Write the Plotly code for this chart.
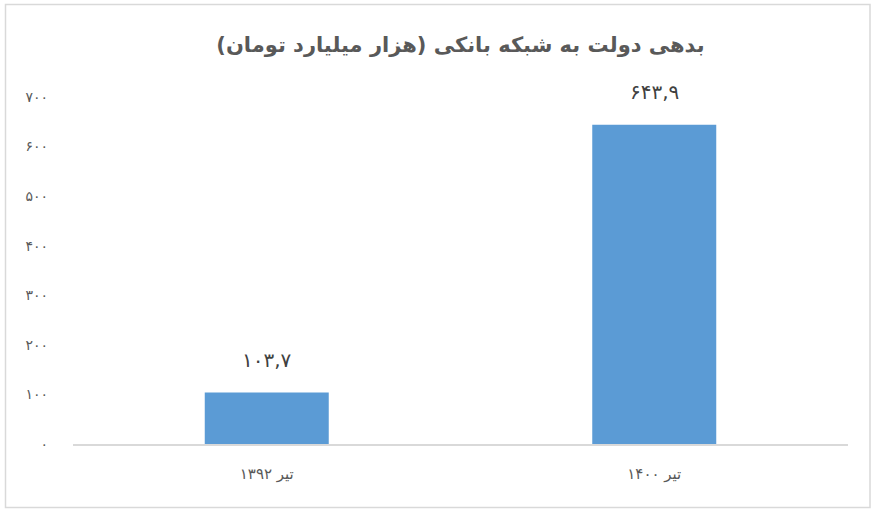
import plotly.graph_objs as go

# داده‌ها
categories = ['تیر ۱۳۹۲', 'تیر ۱۴۰۰']
values = [103.7, 643.9]
value_labels = ['۱۰۳,۷', '۶۴۳,۹']
tick_vals = [0, 100, 200, 300, 400, 500, 600, 700]
tick_text = ['۰', '۱۰۰', '۲۰۰', '۳۰۰', '۴۰۰', '۵۰۰', '۶۰۰', '۷۰۰']
title = 'بدهی دولت به شبکه بانکی (هزار میلیارد تومان)'

W, H = 873, 512
ml, mr, mt, mb = 73, 25, 97, 68

fig = go.Figure()
fig.add_trace(go.Bar(
    x=categories,
    y=values,
    marker=dict(color='#5B9BD5', line=dict(width=0)),
    width=0.32,
    hoverinfo='skip',
))

# برچسب مقدار بالای هر ستون
for cat, val, lab in zip(categories, values, value_labels):
    fig.add_annotation(
        x=cat, y=val, text=lab,
        showarrow=False, yanchor='middle', yshift=33,
        font=dict(family='DejaVu Sans', size=20, color='#404040'),
    )

# قاب دور نمودار
pw, ph = W - ml - mr, H - mt - mb
fig.add_shape(
    type='rect', xref='paper', yref='paper',
    x0=(5.5 - ml) / pw, x1=(870 - ml) / pw,
    y0=((H - mb) - 507.5) / ph,
    y1=((H - mb) - 4.5) / ph,
    line=dict(color='#D9D9D9', width=1.5),
    layer='below',
)

fig.update_layout(
    width=W, height=H,
    margin=dict(l=ml, r=mr, t=mt, b=mb),
    paper_bgcolor='white',
    plot_bgcolor='white',
    showlegend=False,
    title=dict(
        text=title,
        x=0.5, xref='paper', xanchor='center',
        y=1 - 45 / H, yanchor='middle',
        font=dict(family='DejaVu Sans', size=21, color='#595959', weight='bold'),
    ),
    xaxis=dict(
        showline=True, linecolor='#D9D9D9', linewidth=1.5,
        showgrid=False, ticks='',
        ticklabelstandoff=15,
        tickfont=dict(family='DejaVu Sans', size=15, color='#595959'),
    ),
    yaxis=dict(
        range=[0, 700],
        tickvals=tick_vals, ticktext=tick_text,
        showgrid=False, zeroline=False, showline=False, ticks='',
        ticklabelstandoff=24,
        tickfont=dict(family='DejaVu Sans', size=14, color='#595959'),
    ),
)

# حذف حاشیه پیش‌فرض صفحه
fig.write_html('out.html', config={'displayModeBar': False},
               post_script="document.body.style.margin='0';")
